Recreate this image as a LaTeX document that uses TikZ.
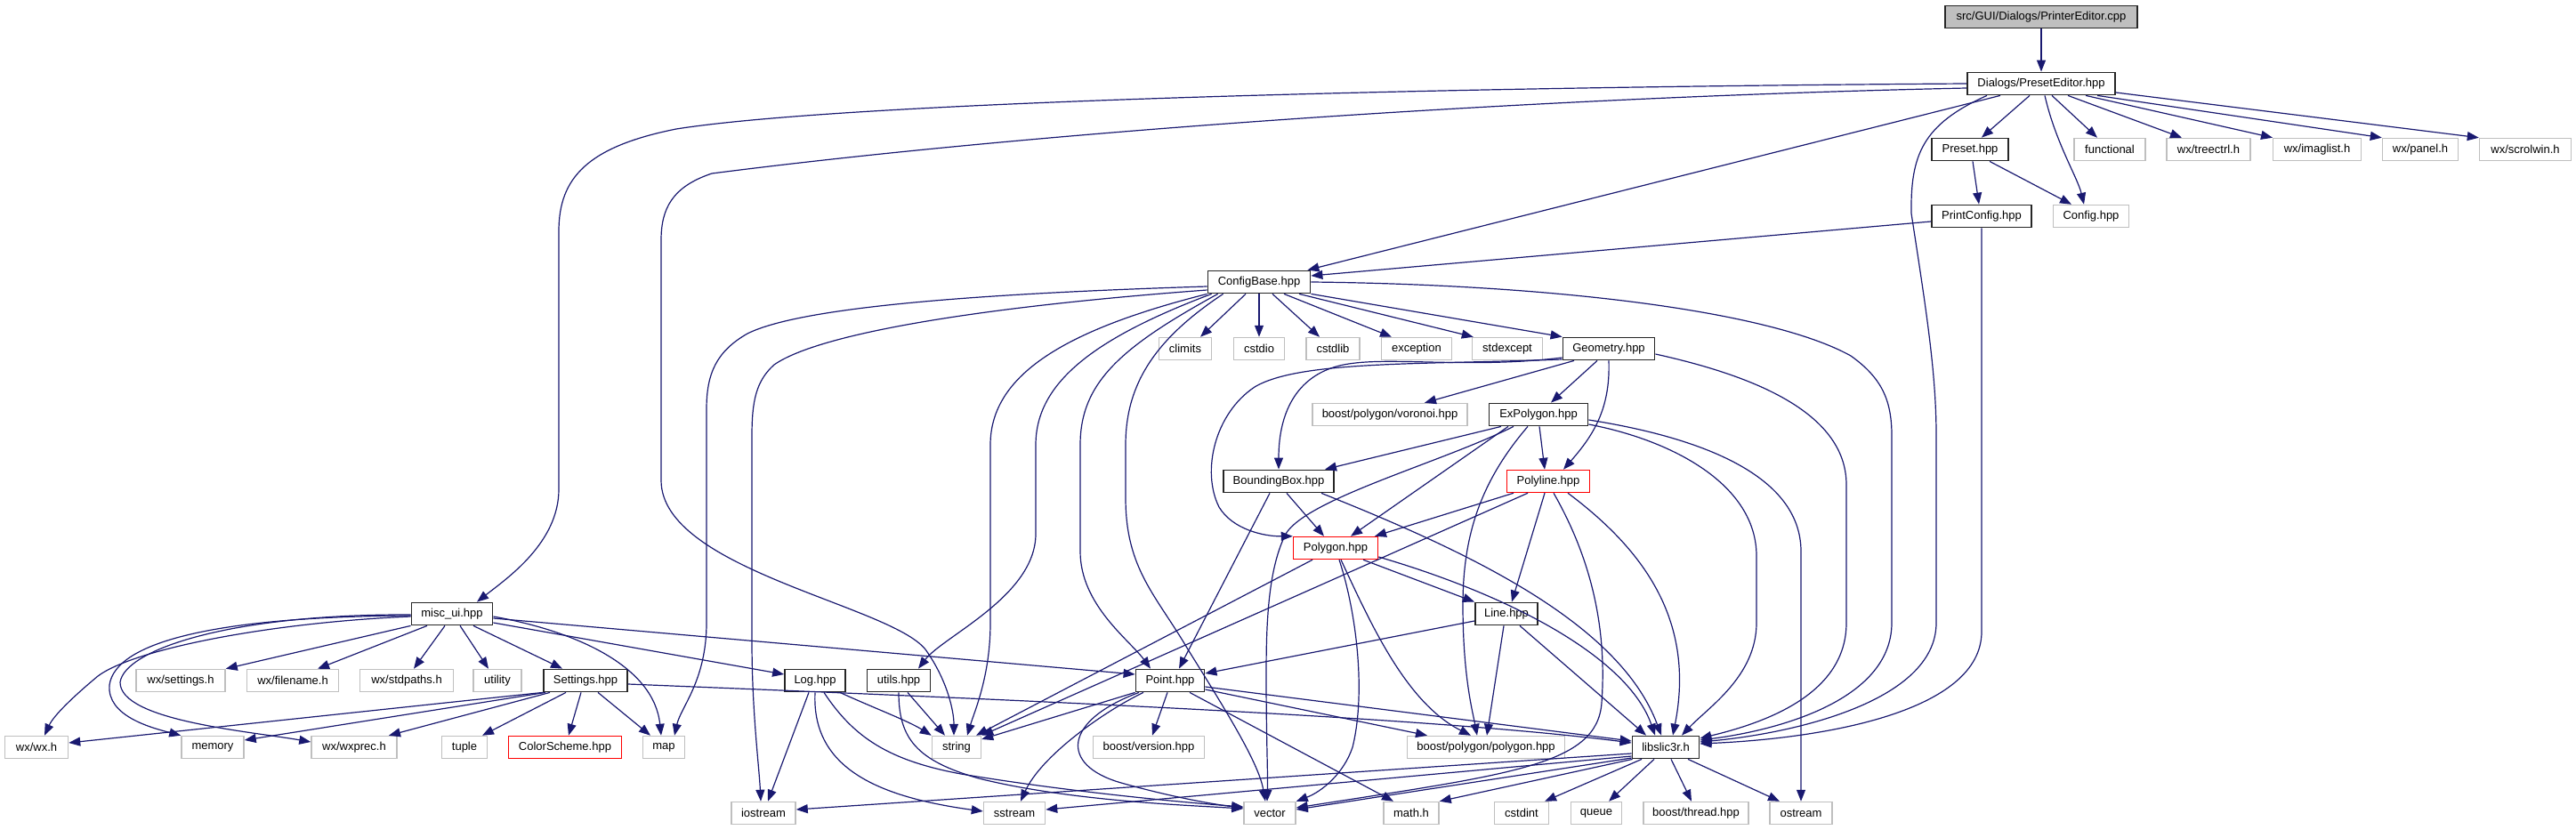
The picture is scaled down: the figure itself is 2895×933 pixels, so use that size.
\documentclass[tikz,border=0pt]{standalone}
\usepackage{fontspec}
\setmainfont{Liberation Sans}
\usetikzlibrary{arrows.meta}
\definecolor{mblue}{HTML}{191970}
\definecolor{lgray}{HTML}{BFBFBF}
\begin{document}
\begin{tikzpicture}[x=1pt,y=-1pt,
 box/.style={draw, rectangle, minimum height=25pt, inner sep=0pt, font=\fontsize{13}{15}\selectfont},
 gb/.style={box, draw=lgray, line width=1.5pt},
 kb/.style={box, draw=black!85, line width=1.8pt},
 rb/.style={box, draw=red, line width=1.5pt},
 sb/.style={kb, fill=lgray},
 e/.style={draw=mblue, line width=1.2pt, -{Triangle[length=13pt,width=10pt]}}]
\path[use as bounding box] (0,0) rectangle (2895,933);
% nodes
\node[sb, minimum width=216pt] (pe) at (2294,19) {src/GUI/Dialogs/PrinterEditor.cpp};
\node[kb, minimum width=166pt] (pse) at (2294,94) {Dialogs/PresetEditor.hpp};
\node[kb, minimum width=86pt] (preset) at (2214,168) {Preset.hpp};
\node[gb, minimum width=80pt] (functional) at (2371,168) {functional};
\node[gb, minimum width=94pt] (treectrl) at (2482,168) {wx/treectrl.h};
\node[gb, minimum width=99pt] (imaglist) at (2604,168) {wx/imaglist.h};
\node[gb, minimum width=85pt] (panel) at (2720,168) {wx/panel.h};
\node[gb, minimum width=103pt] (scrolwin) at (2838,168) {wx/scrolwin.h};
\node[kb, minimum width=112pt] (printcfg) at (2227,243) {PrintConfig.hpp};
\node[gb, minimum width=85pt] (config) at (2350,243) {Config.hpp};
\node[kb, minimum width=115pt] (cb) at (1415,317) {ConfigBase.hpp};
\node[gb, minimum width=59pt] (climits) at (1332,392) {climits};
\node[gb, minimum width=57pt] (cstdio) at (1415,392) {cstdio};
\node[gb, minimum width=60pt] (cstdlib) at (1498,392) {cstdlib};
\node[gb, minimum width=79pt] (exception) at (1592,392) {exception};
\node[gb, minimum width=79pt] (stdexcept) at (1694,392) {stdexcept};
\node[kb, minimum width=103pt] (geom) at (1808,392) {Geometry.hpp};
\node[gb, minimum width=174pt] (voronoi) at (1562,466) {boost/polygon/voronoi.hpp};
\node[kb, minimum width=111pt] (expoly) at (1729,466) {ExPolygon.hpp};
\node[kb, minimum width=124pt] (bbox) at (1437,541) {BoundingBox.hpp};
\node[rb, minimum width=93pt] (polyline) at (1740,541) {Polyline.hpp};
\node[rb, minimum width=95pt] (polygon) at (1501,616) {Polygon.hpp};
\node[kb, minimum width=70pt] (line) at (1693,690) {Line.hpp};
\node[kb, minimum width=91pt] (misc) at (508,690) {misc\_ui.hpp};
\node[gb, minimum width=100pt] (wxsettings) at (203,765) {wx/settings.h};
\node[gb, minimum width=103pt] (wxfilename) at (329,765) {wx/filename.h};
\node[gb, minimum width=105pt] (wxstdpaths) at (457,765) {wx/stdpaths.h};
\node[gb, minimum width=54pt] (utility) at (559,765) {utility};
\node[kb, minimum width=94pt] (settings) at (658,765) {Settings.hpp};
\node[kb, minimum width=68pt] (log) at (916,765) {Log.hpp};
\node[kb, minimum width=71pt] (utils) at (1010,765) {utils.hpp};
\node[kb, minimum width=77pt] (point) at (1315,765) {Point.hpp};
\node[gb, minimum width=71pt] (wxwx) at (41,840) {wx/wx.h};
\node[gb, minimum width=70pt] (memory) at (239,840) {memory};
\node[gb, minimum width=96pt] (wxprec) at (398,840) {wx/wxprec.h};
\node[gb, minimum width=51pt] (tuple) at (522,840) {tuple};
\node[rb, minimum width=127pt] (colorscheme) at (635,840) {ColorScheme.hpp};
\node[gb, minimum width=47pt] (map) at (746,840) {map};
\node[gb, minimum width=55pt] (string) at (1075,840) {string};
\node[gb, minimum width=125pt] (bversion) at (1291,840) {boost/version.hpp};
\node[gb, minimum width=177pt] (bpoly) at (1670,840) {boost/polygon/polygon.hpp};
\node[kb, minimum width=75pt] (libslic3r) at (1872,840) {libslic3r.h};
\node[gb, minimum width=72pt] (iostream) at (858,914) {iostream};
\node[gb, minimum width=69pt] (sstream) at (1140,914) {sstream};
\node[gb, minimum width=58pt] (vector) at (1427,914) {vector};
\node[gb, minimum width=62pt] (math) at (1586,914) {math.h};
\node[gb, minimum width=61pt] (cstdint) at (1710,914) {cstdint};
\node[gb, minimum width=57pt] (queue) at (1794,914) {queue};
\node[gb, minimum width=118pt] (bthread) at (1906,914) {boost/thread.hpp};
\node[gb, minimum width=70pt] (ostream) at (2024,914) {ostream};
% PrinterEditor / PresetEditor
\draw[e] (pe) -- (pse);
\draw[e] ([xshift=-13pt]pse.south) -- ([xshift=13pt]preset.north);
\draw[e] ([xshift=4pt]pse.south) .. controls (2310,160) and (2335,200) .. ([xshift=-8pt]config.north);
\draw[e] ([xshift=12pt]pse.south) -- ([xshift=-14pt]functional.north);
\draw[e] ([xshift=30pt]pse.south) -- ([xshift=-30pt]treectrl.north);
\draw[e] ([xshift=50pt]pse.south) -- ([xshift=-50pt]imaglist.north);
\draw[e] ([xshift=63pt]pse.south) -- (panel.north west);
\draw[e] ([yshift=-10pt]pse.east) -- (scrolwin.north west);
\draw[e] ([xshift=-46pt]pse.south) -- ([xshift=-4pt]cb.north east);
\draw[e] (pse.west) .. controls (1600,98) and (950,115) .. (760,145) .. controls (660,165) and (628,200) .. (628,260) -- (628,550) .. controls (628,610) and (570,650) .. ([xshift=28pt]misc.north);
\draw[e] ([yshift=-5pt]pse.west) .. controls (1700,110) and (1150,150) .. (800,195) .. controls (755,210) and (743,235) .. (743,270) -- (743,540) .. controls (743,640) and (1000,680) .. (1040,730) .. controls (1065,765) and (1072,800) .. ([xshift=-3pt]string.north);
\draw[e] ([xshift=-61pt]pse.south) .. controls (2160,140) and (2147,175) .. (2148,240) .. controls (2165,350) and (2176,420) .. (2176,490) -- (2176,700) .. controls (2176,790) and (2010,825) .. ([yshift=6pt]libslic3r.east);
% Preset / PrintConfig
\draw[e] ([xshift=3pt]preset.south) -- ([xshift=-3pt]printcfg.north);
\draw[e] ([xshift=22pt]preset.south) -- ([xshift=-22pt]config.north);
\draw[e] ([yshift=-6pt]printcfg.west) -- ([yshift=7pt]cb.east);
\draw[e] (printcfg.south) -- (2227,710) .. controls (2227,800) and (2050,830) .. ([yshift=4pt]libslic3r.east);
% ConfigBase
\draw[e] ([xshift=-15pt]cb.south) -- ([xshift=17pt]climits.north);
\draw[e] (cb.south) -- (cstdio.north);
\draw[e] ([xshift=15pt]cb.south) -- ([xshift=-15pt]cstdlib.north);
\draw[e] ([xshift=28pt]cb.south) -- ([xshift=-28pt]exception.north);
\draw[e] ([xshift=45pt]cb.south) -- ([xshift=2pt]stdexcept.north west);
\draw[e] (cb.south east) -- (geom.north west);
\draw[e] (cb.east) .. controls (1750,320) and (1990,350) .. (2080,400) .. controls (2115,425) and (2126,450) .. (2126,490) -- (2126,700) .. controls (2126,790) and (1990,822) .. ([yshift=8pt]libslic3r.east);
\draw[e] ([yshift=-5pt]cb.west) .. controls (1100,330) and (900,345) .. (840,375) .. controls (805,395) and (794,420) .. (794,460) -- (794,700) .. controls (794,765) and (765,795) .. ([xshift=12pt]map.north);
\draw[e] ([yshift=-9pt]cb.west) .. controls (1100,345) and (920,375) .. (870,410) .. controls (850,428) and (845,450) .. (845,490) -- (845,720) .. controls (845,800) and (853,860) .. ([xshift=-3pt]iostream.north);
\draw[e] (cb.south west) .. controls (1200,370) and (1113,420) .. (1113,500) -- (1113,700) .. controls (1113,760) and (1095,800) .. ([xshift=12pt]string.north);
\draw[e] ([xshift=5pt]cb.south west) .. controls (1230,380) and (1164,430) .. (1164,500) -- (1164,600) .. controls (1164,670) and (1060,715) .. ([xshift=22pt]utils.north);
\draw[e] ([xshift=12pt]cb.south west) .. controls (1260,390) and (1214,430) .. (1214,500) -- (1214,620) .. controls (1214,680) and (1270,720) .. ([xshift=-22pt]point.north);
\draw[e] ([xshift=18pt]cb.south west) .. controls (1300,380) and (1265,430) .. (1265,500) -- (1265,560) .. controls (1265,640) and (1300,670) .. (1335,730) .. controls (1385,810) and (1415,860) .. ([xshift=-5pt]vector.north);
% Geometry
\draw[e] ([xshift=-39pt]geom.south) -- ([xshift=39pt]voronoi.north);
\draw[e] ([xshift=-13pt]geom.south) -- ([xshift=14pt]expoly.north);
\draw[e] (geom.south) .. controls (1810,460) and (1790,490) .. ([xshift=17pt]polyline.north);
\draw[e] ([yshift=-10pt]geom.west) .. controls (1650,415) and (1560,400) .. (1510,410) .. controls (1460,420) and (1437,460) .. (bbox.north);
\draw[e] ([yshift=-12pt]geom.west) .. controls (1600,410) and (1460,405) .. (1410,435) .. controls (1365,465) and (1350,530) .. (1370,570) .. controls (1385,595) and (1420,603) .. (polygon.north west);
\draw[e] ([yshift=-6pt]geom.east) .. controls (1960,420) and (2075,460) .. (2075,545) -- (2075,700) .. controls (2075,780) and (1985,812) .. ([yshift=10pt]libslic3r.east);
% ExPolygon
\draw[e] ([xshift=-42pt]expoly.south) -- ([xshift=52pt]bbox.north);
\draw[e] ([xshift=-34pt]expoly.south) -- ([xshift=17pt]polygon.north);
\draw[e] ([xshift=-28pt]expoly.south) .. controls (1620,520) and (1470,560) .. (1445,600) .. controls (1425,640) and (1423,700) .. (1423,760) .. controls (1423,830) and (1425,870) .. ([xshift=-3pt]vector.north);
\draw[e] ([xshift=-12pt]expoly.south) .. controls (1665,540) and (1644,600) .. (1644,680) .. controls (1644,760) and (1655,800) .. ([xshift=-10pt]bpoly.north);
\draw[e] ([xshift=1pt]expoly.south) -- ([xshift=-4pt]polyline.north);
\draw[e] ([yshift=-6pt]expoly.east) .. controls (1900,490) and (2024,530) .. (2024,620) -- (ostream.north);
\draw[e] ([yshift=-11pt]expoly.east) .. controls (1880,495) and (1974,545) .. (1974,625) -- (1974,700) .. controls (1974,760) and (1920,795) .. ([xshift=18pt]libslic3r.north);
% Polyline
\draw[e] ([xshift=-39pt]polyline.south) -- ([xshift=44pt]polygon.north);
\draw[e] ([xshift=-23pt]polyline.south) -- (string.north east);
\draw[e] ([xshift=-4pt]polyline.south) -- ([xshift=6pt]line.north);
\draw[e] ([xshift=6pt]polyline.south) .. controls (1795,640) and (1805,720) .. (1800,790) .. controls (1795,860) and (1700,870) .. ([yshift=6pt]vector.east);
\draw[e] ([xshift=22pt]polyline.south) .. controls (1850,620) and (1905,700) .. ([xshift=8pt]libslic3r.north);
% Polygon
\draw[e] ([xshift=-26pt]polygon.south) -- ([xshift=22pt]string.north);
\draw[e] ([xshift=31pt]polygon.south) -- (line.north west);
\draw[e] ([xshift=6pt]polygon.south) .. controls (1540,700) and (1580,790) .. ([xshift=-17pt]bpoly.north);
\draw[e] ([xshift=4pt]polygon.south) .. controls (1525,690) and (1535,780) .. (1520,840) .. controls (1510,870) and (1485,890) .. (vector.north east);
\draw[e] ([yshift=-10pt]polygon.east) .. controls (1700,670) and (1830,740) .. ([xshift=-12pt]libslic3r.north);
% BoundingBox
\draw[e] ([xshift=9pt]bbox.south) -- ([xshift=-13pt]polygon.north);
\draw[e] ([xshift=-10pt]bbox.south) -- ([xshift=10pt]point.north);
\draw[e] ([xshift=48pt]bbox.south) .. controls (1650,620) and (1820,700) .. ([xshift=-5pt]libslic3r.north);
% Line
\draw[e] ([yshift=-8pt]line.west) -- ([yshift=8pt]point.east);
\draw[e] ([xshift=-3pt]line.south) -- ([xshift=1pt]bpoly.north);
\draw[e] ([xshift=15pt]line.south) -- ([xshift=-22pt]libslic3r.north);
% Point
\draw[e] (point.south west) -- ([yshift=9pt]string.east);
\draw[e] ([xshift=-3pt]point.south) -- ([xshift=4pt]bversion.north);
\draw[e] ([xshift=-30pt]point.south) .. controls (1240,800) and (1170,850) .. ([xshift=7pt]sstream.north);
\draw[e] ([xshift=-35pt]point.south) .. controls (1195,810) and (1190,860) .. (1260,880) .. controls (1320,897) and (1370,905) .. ([yshift=6pt]vector.west);
\draw[e] ([xshift=22pt]point.south) -- ([xshift=-20pt]math.north);
\draw[e] ([yshift=-10pt]point.east) -- ([xshift=-66pt]bpoly.north);
\draw[e] ([yshift=-7pt]point.east) -- ([yshift=7pt]libslic3r.west);
% utils
\draw[e] ([xshift=10pt]utils.south) -- ([xshift=-13pt]string.north);
\draw[e] (utils.south) .. controls (1010,830) and (1030,855) .. (1100,875) .. controls (1200,900) and (1330,905) .. ([yshift=5pt]vector.west);
% Log
\draw[e] ([xshift=-7pt]log.south) -- ([xshift=5pt]iostream.north);
\draw[e] ([xshift=28pt]log.south) .. controls (980,795) and (1020,810) .. (string.north west);
\draw[e] (log.south) .. controls (912,860) and (980,895) .. ([yshift=2pt]sstream.west);
\draw[e] ([xshift=10pt]log.south) .. controls (960,830) and (1000,855) .. (1080,870) .. controls (1200,890) and (1330,902) .. ([yshift=7pt]vector.west);
% misc_ui
\draw[e] ([yshift=-3pt]misc.west) .. controls (300,700) and (150,730) .. (110,760) .. controls (80,785) and (60,805) .. ([xshift=9pt]wxwx.north);
\draw[e] ([yshift=-2pt]misc.west) .. controls (250,693) and (130,720) .. (123,770) .. controls (120,805) and (170,818) .. (memory.north west);
\draw[e] ([yshift=-1pt]misc.west) .. controls (260,690) and (140,730) .. (135,767) .. controls (135,810) and (280,822) .. ([yshift=6pt]wxprec.west);
\draw[e] (misc.south west) -- (wxsettings.north east);
\draw[e] ([xshift=-28pt]misc.south) -- ([xshift=28pt]wxfilename.north);
\draw[e] ([xshift=-8pt]misc.south) -- ([xshift=8pt]wxstdpaths.north);
\draw[e] ([xshift=9pt]misc.south) -- ([xshift=-10pt]utility.north);
\draw[e] ([xshift=24pt]misc.south) -- ([xshift=-26pt]settings.north);
\draw[e] ([yshift=-3pt]misc.east) .. controls (650,710) and (735,750) .. ([xshift=-3pt]map.north);
\draw[e] ([yshift=-10pt]misc.east) -- ([yshift=7pt]log.west);
\draw[e] ([yshift=-5pt]misc.east) -- ([yshift=7pt]point.west);
% Settings
\draw[e] (settings.south west) -- ([yshift=5pt]wxwx.east);
\draw[e] ([xshift=3pt]settings.south west) -- ([yshift=8pt]memory.east);
\draw[e] ([xshift=-40pt]settings.south) -- ([xshift=39pt]wxprec.north);
\draw[e] ([xshift=-22pt]settings.south) -- ([xshift=20pt]tuple.north);
\draw[e] ([xshift=-5pt]settings.south) -- ([xshift=4pt]colorscheme.north);
\draw[e] ([xshift=14pt]settings.south) -- ([xshift=-15pt]map.north);
\draw[e] ([yshift=-4pt]settings.east) .. controls (1100,785) and (1600,805) .. ([yshift=5pt]libslic3r.west);
% libslic3r
\draw[e] ([yshift=-7pt]libslic3r.west) -- ([yshift=4pt]iostream.east);
\draw[e] ([yshift=-10pt]libslic3r.west) -- ([yshift=4pt]sstream.east);
\draw[e] ([yshift=-12pt]libslic3r.west) -- ([yshift=4pt]vector.east);
\draw[e] ([xshift=1pt]libslic3r.south west) -- (math.north east);
\draw[e] ([xshift=-27pt]libslic3r.south) -- ([xshift=26pt]cstdint.north);
\draw[e] ([xshift=-13pt]libslic3r.south) -- ([xshift=14pt]queue.north);
\draw[e] ([xshift=6pt]libslic3r.south) -- ([xshift=-5pt]bthread.north);
\draw[e] ([xshift=25pt]libslic3r.south) -- ([xshift=-24pt]ostream.north);
\end{tikzpicture}
\end{document}
